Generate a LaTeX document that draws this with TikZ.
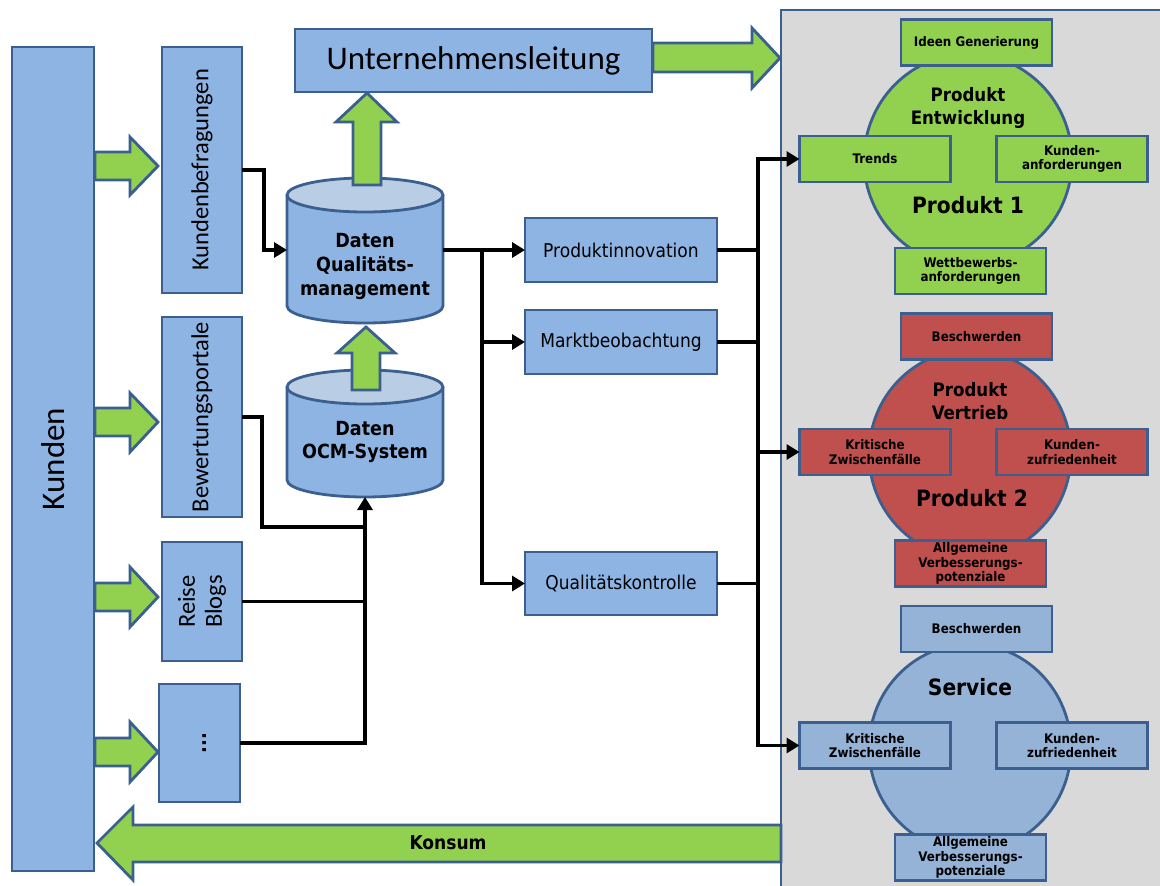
\documentclass[tikz,border=0pt]{standalone}
\usepackage{fontspec}
\setmainfont{DejaVu Sans Condensed}
\newfontfamily\calfont{Carlito}
\usetikzlibrary{arrows.meta}
\definecolor{lblue}{HTML}{8EB4E3}
\definecolor{sblue}{HTML}{95B3D7}
\definecolor{cyltop}{HTML}{B9CDE5}
\definecolor{bdr}{HTML}{3B5F8E}
\definecolor{lgreen}{HTML}{92D050}
\definecolor{lred}{HTML}{C0504D}
\definecolor{panelgray}{HTML}{D9D9D9}
\begin{document}
\begin{tikzpicture}[x=1pt,y=-1pt,
  bdrline/.style={draw=bdr,line width=2.8pt},
  bx/.style={bdrline,inner sep=1pt,outer sep=0pt,align=center},
  bluebx/.style={bx,fill=lblue},
  greenbx/.style={bx,fill=lgreen},
  redbx/.style={bx,fill=lred},
  servbx/.style={bx,fill=sblue},
  small/.style={font=\bfseries\fontsize{13.2}{14.5}\selectfont},
  smallbox/.style={minimum width=151pt,minimum height=46pt},
  mid/.style={font=\fontsize{19}{22}\selectfont},
  calv/.style={rotate=90,font=\calfont\fontsize{24.5}{27}\selectfont,align=center},
  bigarrow/.style={bdrline,fill=lgreen,line join=miter},
  conn/.style={line width=3.8pt,black},
  tip/.style={-{Triangle[length=13pt,width=15pt]}},
  circtitle/.style={font=\bfseries\fontsize{18.5}{23}\selectfont,align=center},
  circbig/.style={font=\bfseries\fontsize{22.5}{26}\selectfont},
]
\useasboundingbox (0,0) rectangle (1160,886);
\fill[white] (0,0) rectangle (1160,886);

% right panel
\draw[bdrline,fill=panelgray] (781,10) rectangle (1180,900);

% circles
\draw[bdrline,fill=lgreen] (968,160) ellipse[x radius=104,y radius=106];
\draw[bdrline,fill=lred] (970,454) ellipse[x radius=101,y radius=104];
\draw[bdrline,fill=sblue] (970,748) ellipse[x radius=101,y radius=104];

% Produkt 1
\node[greenbx,small,smallbox] (ideen) at (976.5,42.5) {Ideen Generierung};
\node[greenbx,small,smallbox] (trends) at (875,159) {Trends};
\node[greenbx,small,smallbox] (kanf) at (1072,159) {Kunden-\\anforderungen};
\node[greenbx,small,smallbox] (wett) at (970.5,271) {Wettbewerbs-\\anforderungen};
\node[circtitle] (p1t) at (968,108) {Produkt\\Entwicklung};
\node[circbig] (p1) at (968,205) {Produkt 1};

% Produkt 2
\node[redbx,small,smallbox] (besch2) at (976.5,336.5) {Beschwerden};
\node[redbx,small,smallbox] (krit2) at (875,452) {Kritische\\Zwischenfälle};
\node[redbx,small,smallbox] (kzuf2) at (1072,452) {Kunden-\\zufriedenheit};
\node[redbx,small,smallbox] (allg2) at (970.5,563.5) {Allgemeine\\Verbesserungs-\\potenziale};
\node[circtitle] (p2t) at (970,401) {Produkt\\Vertrieb};
\node[circbig] (p2) at (972,498) {Produkt 2};

% Service
\node[servbx,small,smallbox] (besch3) at (976.5,629) {Beschwerden};
\node[servbx,small,smallbox] (krit3) at (875,745.5) {Kritische\\Zwischenfälle};
\node[servbx,small,smallbox] (kzuf3) at (1072,745.5) {Kunden-\\zufriedenheit};
\node[servbx,small,smallbox] (allg3) at (970.5,857.5) {Allgemeine\\Verbesserungs-\\potenziale};
\node[circbig] (serv) at (970,687) {Service};

% left column
\node[bluebx,minimum width=82pt,minimum height=824pt] (kunden) at (53,459) {};
\node[rotate=90,font=\calfont\fontsize{33}{36}\selectfont] (kundent) at (kunden) {Kunden};

\node[bluebx,minimum width=80pt,minimum height=246pt] (kb) at (202,170) {};
\node[calv] (kbt) at (kb) {Kundenbefragungen};
\node[bluebx,minimum width=80pt,minimum height=200pt] (bp) at (202,417) {};
\node[calv] (bpt) at (bp) {Bewertungsportale};
\node[bluebx,minimum width=80pt,minimum height=119pt] (rb) at (202,601.5) {};
\node[calv] (rbt) at (rb) {Reise\\Blogs};
\node[bluebx,minimum width=81pt,minimum height=118pt] (dots) at (199.5,743) {};
\node[rotate=90,font=\bfseries\fontsize{20}{22}\selectfont] (dotst) at (205,743) {...};

% green arrows from Kunden
\draw[bigarrow] (95,152)--(130,152)--(130,137)--(158,166)--(130,195)--(130,180)--(95,180)--cycle;
\draw[bigarrow] (95,408)--(130,408)--(130,393)--(158,422)--(130,452)--(130,436)--(95,436)--cycle;
\draw[bigarrow] (95,583)--(130,583)--(130,567)--(158,597)--(130,627)--(130,611)--(95,611)--cycle;
\draw[bigarrow] (95,738)--(130,738)--(130,722)--(158,752)--(130,782)--(130,766)--(95,766)--cycle;

% Unternehmensleitung
\node[bluebx,minimum width=357pt,minimum height=63pt,font=\calfont\fontsize{33}{36}\selectfont] (ul) at (473.5,60.5) {Unternehmensleitung};
\draw[bigarrow] (653,43)--(752,43)--(752,28)--(780,58)--(752,88)--(752,72)--(653,72)--cycle;

% cylinders
\draw[bdrline,fill=lblue] (287,195) -- (287,306) arc[start angle=180,end angle=0,x radius=78,y radius=17] -- (443,195);
\draw[bdrline,fill=cyltop] (365,195) ellipse[x radius=78,y radius=17];
\draw[bdrline,fill=lblue] (287,387) -- (287,480) arc[start angle=180,end angle=0,x radius=78,y radius=17] -- (443,387);
\draw[bdrline,fill=cyltop] (365,387) ellipse[x radius=78,y radius=17];
\node[inner sep=0pt,outer sep=0pt,minimum width=156pt,minimum height=146pt] (dqm) at (365,250) {};
\node[inner sep=0pt,outer sep=0pt,minimum width=156pt,minimum height=127pt] (ocm) at (365,433.5) {};
\node[font=\bfseries\fontsize{19.5}{24}\selectfont,align=center] (dqmt) at (365,266) {Daten\\Qualitäts-\\management};
\node[font=\bfseries\fontsize{19.5}{23}\selectfont,align=center] (ocmt) at (365,442) {Daten\\OCM-System};

% up arrows
\draw[bigarrow] (353,185)--(353,122)--(336,122)--(367,93)--(397,122)--(381,122)--(381,185)--cycle;
\draw[bigarrow] (352,390)--(352,353)--(337,353)--(366,327)--(395,353)--(380,353)--(380,390)--cycle;

% middle boxes
\node[bluebx,mid,minimum width=192pt,minimum height=64pt] (pi) at (621,250) {Produktinnovation};
\node[bluebx,mid,minimum width=192pt,minimum height=64pt] (mb) at (621,342) {Marktbeobachtung};
\node[bluebx,mid,minimum width=192pt,minimum height=63pt] (qk) at (621,583.5) {Qualitätskontrolle};

% Konsum arrow
\draw[bigarrow] (781,825)--(133,825)--(133,807)--(97,843)--(133,880)--(133,862)--(781,862)--cycle;
\node[font=\bfseries\fontsize{19}{20}\selectfont] (konsum) at (448,843) {Konsum};

% connectors
\coordinate (jb) at (365,527);
\coordinate (br) at (482,250);
\coordinate (bus) at (758,0);
\draw[conn,tip] (kb.east) -- ++(22,0) |- (dqm.west);
\draw[conn] (bp.east) -- ++(20,0) |- (jb);
\draw[conn] (rb.east) -- (rb.east -| ocm.south);
\draw[conn,tip] (dots.east) -| (ocm.south);
\draw[conn,tip] (dqm.east) -- (pi.west);
\draw[conn,tip] (br) |- (mb.west);
\draw[conn,tip] (br) |- (qk.west);
\draw[conn] (pi.east) -- (pi.east -| bus);
\draw[conn] (mb.east) -- (mb.east -| bus);
\draw[conn] (qk.east) -- (qk.east -| bus);
\draw[conn,tip] (bus |- krit3.west) -- (bus |- trends.west) -- (trends.west);
\draw[conn,tip] (bus |- mb.east) |- (krit3.west);
\draw[conn,tip] (bus |- krit2.west) -- (krit2.west);
\end{tikzpicture}
\end{document}
